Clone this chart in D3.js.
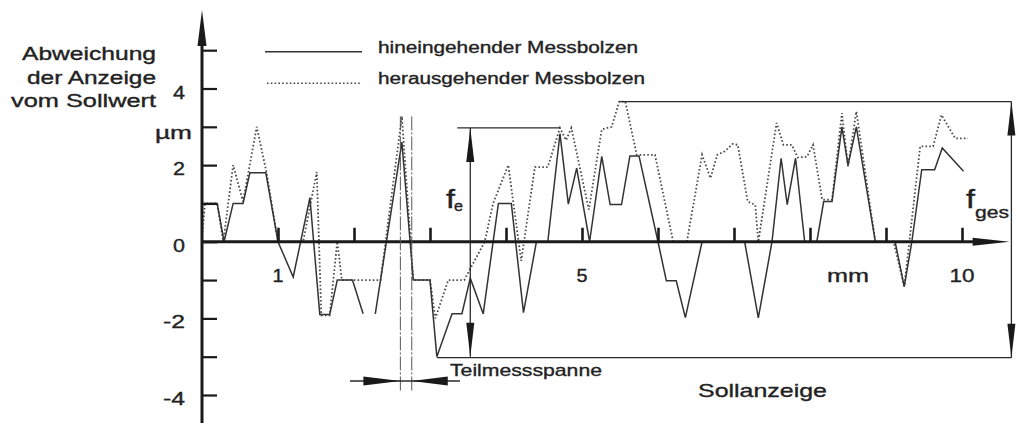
<!DOCTYPE html>
<html>
<head>
<meta charset="utf-8">
<script src="https://cdnjs.cloudflare.com/ajax/libs/d3/7.8.5/d3.min.js"></script>
<style>
  body { margin: 0; background: #fff; }
  text { font-family: "Liberation Sans", Arial, sans-serif; fill: #222; stroke: #222; stroke-width: 0.35; }
</style>
</head>
<body>
<svg width="1020" height="423"></svg>
<script>
// hineingehender Messbolzen (solid), position in mm / deviation in µm
var inMm  = [0, 0.2, 0.29, 0.41, 0.54, 0.63, 0.84, 1.0,
             1.2, 1.42, 1.55, 1.68, 1.78, 1.98, 2.12, 2.2,
             2.28, 2.63, 2.78, 3.0, 3.09, 3.29, 3.42, 3.53,
             3.70, 3.9, 4.07, 4.23, 4.4, 4.55, 4.71, 4.82,
             4.93, 5.1, 5.26, 5.37, 5.52, 5.63, 5.75, 6.0,
             6.11, 6.24, 6.36, 6.58, 7.14, 7.32, 7.5, 7.62,
             7.7, 7.81, 7.93, 8.09, 8.18, 8.29, 8.42, 8.5,
             8.61, 8.86, 9.12, 9.24, 9.34, 9.47, 9.64, 9.74,
             10.02];
var inDev = [1, 1, 0, 1, 1, 1.8, 1.8, 0,
             -0.92, 1.15, -1.9, -1.9, -1, -1, -1.88, null,
             -1.88, 2.6, -1, -1, -3, -1.88, -1.88, -0.95,
             -1.88, 1, 1, -1.85, 0, 0, 2.82, 0.98,
             1.92, 0, 2.23, 0.97, 0.97, 2.24, 2.24, 0,
             -1.02, -1.02, -1.98, 0, 0, -1.99, 0, 2.18,
             0.97, 2.18, 0, 0, 1.05, 1.05, 3.0, 2.0,
             3.0, 0, 0, -1.17, 0, 1.88, 1.88, 2.45,
             1.84];

// herausgehender Messbolzen (dotted)
var outMm  = [0, 0.04, 0.2, 0.28, 0.41, 0.54, 0.72, 0.85,
              1.0, 1.33, 1.51, 1.57, 1.68, 1.78, 1.84, 2.35,
              2.63, 2.78, 3.0, 3.07, 3.24, 3.45, 3.72, 3.83,
              4.03, 4.2, 4.38, 4.55, 4.71, 4.79, 4.86, 5.09,
              5.26, 5.39, 5.49, 5.57, 5.72, 5.96, 6.2, 6.38,
              6.58, 6.69, 6.78, 6.88, 6.98, 7.05, 7.18, 7.28,
              7.32, 7.56, 7.65, 7.76, 7.84, 7.96, 8.04, 8.16,
              8.29, 8.42, 8.5, 8.61, 8.86, 9.1, 9.24, 9.45,
              9.62, 9.73, 9.91, 10.08];
var outDev = [0.15, 1, 1, 0, 2, 1.05, 3, 1.8,
              0, 0, 1.82, -1.92, -1.92, 0, -1, -1,
              3.27, -1, -1, -2, -1, -1, 0, 1,
              2, -0.5, 1.95, 1.95, 2.97, 2.65, 2.97, 0.84,
              2.93, 3.0, 3.66, 3.66, 2.27, 2.27, 0, 0,
              2.27, 1.66, 2.27, 2.36, 2.55, 2.53, 1.05, 0.96,
              0, 3.1, 2.53, 2.53, 2.2, 2.22, 2.53, 1.1,
              1.1, 3.36, 1.97, 3.4, 0, 0, -1.17, 2.49,
              2.49, 3.31, 2.7, 2.7];

var xTicks = [1, 2, 3, 4, 5, 6, 7, 8, 9, 10];
var xLabels = ["1", "5", "mm", "10"];
var xLabelAt = [1, 5, 8.5, 10];
var yTicks = [-4, -3, -2, -1, 0, 1, 2, 3, 4, 5];
var yLabels = ["4", "2", "0", "-2", "-4"];
var yLabelAt = [4, 2, 0, -2, -4];

var legendNames = ["hineingehender Messbolzen", "herausgehender Messbolzen"];
var teilSpan = [2.61, 2.76];   // Teilmessspanne, mm
var feRange = [2.8, 4.75];     // range of f_e, mm
var feAt = 3.53, fgesAt = 10.65, axisEnd = 10.6;

var svg = d3.select("svg");
var x = d3.scaleLinear().domain([0, 10]).range([202, 962]);
var y = d3.scaleLinear().domain([-4, 4]).range([395, 88.5]);

function zip(a, b) { return a.map(function(d, i) { return [d, b[i]]; }); }
var inData = zip(inMm, inDev), outData = zip(outMm, outDev);

var line = d3.line()
    .defined(function(d) { return d[1] !== null; })
    .x(function(d) { return x(d[0]); })
    .y(function(d) { return y(d[1]); });

// stretched text helper (the scan is wider than it is tall)
function label(g, t, px, py, size, len, anchor) {
  var el = g.append("text").attr("x", px).attr("y", py)
    .attr("font-size", size).attr("text-anchor", anchor || "start").text(t);
  if (len) el.attr("textLength", len).attr("lengthAdjust", "spacingAndGlyphs");
  return el;
}
function tri(g, p) {
  g.append("path").attr("d", "M" + p.join("L") + "Z").attr("fill", "#1a1a1a");
}

// ---- curves
svg.append("path").datum(outData).attr("d", line)
   .attr("fill", "none").attr("stroke", "#4a4a4a").attr("stroke-width", 1.8)
   .attr("stroke-dasharray", "1.6,2.2");
svg.append("path").datum(inData).attr("d", line)
   .attr("fill", "none").attr("stroke", "#333").attr("stroke-width", 1.5);

// ---- axes
var yAx = svg.append("g").attr("transform", "translate(" + x(0) + ",0)")
   .call(d3.axisRight(y).tickValues(yTicks).tickSize(15).tickFormat(""));
yAx.select(".domain").remove();
yAx.selectAll("line").attr("stroke", "#1a1a1a").attr("stroke-width", 2.2);

var xAx = svg.append("g").attr("transform", "translate(0," + y(0) + ")")
   .call(d3.axisTop(x).tickValues(xTicks).tickSize(14).tickFormat(""));
xAx.select(".domain").remove();
xAx.selectAll("line").attr("stroke", "#1a1a1a").attr("stroke-width", 2.6);

svg.append("line").attr("x1", x(0)).attr("x2", x(0)).attr("y1", 423).attr("y2", 30)
   .attr("stroke", "#1a1a1a").attr("stroke-width", 3);
tri(svg, [[x(0), 10], [x(0) - 4.5, 46], [x(0) + 4.5, 46]]);
svg.append("line").attr("x1", x(0)).attr("x2", x(axisEnd) - 20).attr("y1", y(0)).attr("y2", y(0))
   .attr("stroke", "#1a1a1a").attr("stroke-width", 3);
tri(svg, [[x(axisEnd) + 2, y(0)], [x(axisEnd) - 35, y(0) - 4], [x(axisEnd) - 35, y(0) + 4]]);

yLabels.forEach(function(t, i) {
  label(svg, t, 185, y(yLabelAt[i]) + 10, 19, t.length > 1 ? 22 : 12, "end");
});
label(svg, "µm", 192, y(3) + 12, 18, 37, "end");
xLabels.forEach(function(t, i) {
  label(svg, t, x(xLabelAt[i]), 282, 19, t === "mm" ? 42 : (t.length > 1 ? 25 : 11), "middle");
});

// axis title
var title = ["Abweichung", "der Anzeige", "vom Sollwert"];
var titleLen = [134, 129, 145];
title.forEach(function(t, i) {
  label(svg, t, 156, 60 + i * 23.5, 18, titleLen[i], "end");
});

// ---- legend
svg.append("line").attr("x1", 265).attr("x2", 362).attr("y1", 51.7).attr("y2", 51.7)
   .attr("stroke", "#333").attr("stroke-width", 1.5);
svg.append("line").attr("x1", 267).attr("x2", 362).attr("y1", 83.3).attr("y2", 83.3)
   .attr("stroke", "#4a4a4a").attr("stroke-width", 1.6).attr("stroke-dasharray", "1.6,2.2");
label(svg, legendNames[0], 378, 53, 16, 260);
label(svg, legendNames[1], 378, 84, 16, 267);

// ---- dimensions
var all = inData.concat(outData).filter(function(d) { return d[1] !== null; });
var inFe = all.filter(function(d) { return d[0] >= feRange[0] && d[0] <= feRange[1]; });
var feTop = d3.max(inFe, function(d) { return d[1]; });
var feBot = d3.min(inFe, function(d) { return d[1]; });
var gTop = d3.max(all, function(d) { return d[1]; });
var gBot = d3.min(all, function(d) { return d[1]; });
var feTopAt = inFe.find(function(d) { return d[1] === feTop; })[0];
var gTopAt = all.find(function(d) { return d[1] === gTop; })[0];
var botAt = all.find(function(d) { return d[1] === gBot; })[0];

var dim = svg.append("g").attr("stroke", "#2a2a2a").attr("stroke-width", 1.3);
dim.append("line").attr("x1", x(feAt) - 13).attr("x2", x(feTopAt)).attr("y1", y(feTop)).attr("y2", y(feTop));
dim.append("line").attr("x1", x(botAt)).attr("x2", x(fgesAt)).attr("y1", y(gBot) + 1).attr("y2", y(gBot) + 1);
dim.append("line").attr("x1", x(gTopAt)).attr("x2", x(fgesAt)).attr("y1", y(gTop)).attr("y2", y(gTop));
dim.append("line").attr("x1", x(feAt)).attr("x2", x(feAt)).attr("y1", y(feTop)).attr("y2", y(feBot));
dim.append("line").attr("x1", x(fgesAt)).attr("x2", x(fgesAt)).attr("y1", y(gTop)).attr("y2", y(gBot) + 1);

function vArrows(px, top, bot) {
  tri(svg, [[px, top], [px - 4, top + 34], [px + 4, top + 34]]);
  tri(svg, [[px, bot], [px - 4, bot - 34], [px + 4, bot - 34]]);
}
vArrows(x(feAt), y(feTop), y(feBot));
vArrows(x(fgesAt), y(gTop), y(gBot) + 1);

// Teilmessspanne
var peak = d3.max(all.filter(function(d) { return d[0] > 2.5 && d[0] < 2.7; }), function(d) { return d[1]; });
teilSpan.forEach(function(m) {
  svg.append("line").attr("x1", x(m)).attr("x2", x(m)).attr("y1", y(peak)).attr("y2", 392)
     .attr("stroke", "#555").attr("stroke-width", 1).attr("stroke-dasharray", "14,2,2,2");
});
svg.append("line").attr("x1", 350).attr("x2", 460).attr("y1", 381).attr("y2", 381)
   .attr("stroke", "#2a2a2a").attr("stroke-width", 1.3);
tri(svg, [[x(teilSpan[0]), 381], [x(teilSpan[0]) - 37, 376.5], [x(teilSpan[0]) - 37, 385.5]]);
tri(svg, [[x(teilSpan[1]), 381], [x(teilSpan[1]) + 36, 376.5], [x(teilSpan[1]) + 36, 385.5]]);

label(svg, "Teilmessspanne", 450, 376, 17, 152);
label(svg, "Sollanzeige", 698, 397, 19, 129);

// f_e and f_ges
label(svg, "f", 446, 208, 25, 9);
label(svg, "e", 454, 211, 15, 9);
label(svg, "f", 966, 208, 25, 9);
label(svg, "ges", 975, 218, 17, 34);
</script>
</body>
</html>
